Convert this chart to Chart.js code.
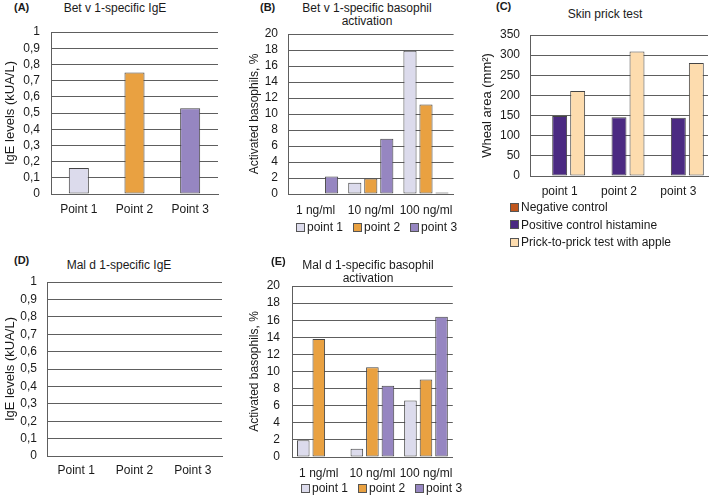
<!DOCTYPE html>
<html>
<head>
<meta charset="utf-8">
<script src="https://cdn.jsdelivr.net/npm/chart.js@4.4.1/dist/chart.umd.min.js"></script>
<style>
  body { margin: 0; background: #fff; font-family: "Liberation Sans", Arial, sans-serif; color: #1a1a1a; }
  #wrap { position: relative; width: 709px; height: 496px; overflow: hidden; }
  canvas { position: absolute; }
  .tag { position: absolute; font-weight: bold; font-size: 11px; line-height: 13px; }
  .ttl { position: absolute; font-size: 12px; line-height: 12.5px; text-align: center; transform: translateX(-50%); white-space: nowrap; }
  .leg { position: absolute; font-size: 12px; line-height: 14px; display: flex; gap: 10px; }
  .leg.col { flex-direction: column; gap: 3.5px; }
  .item { display: flex; align-items: center; white-space: nowrap; }
  .box { width: 7px; height: 7px; border: 1px solid #555; margin-right: 2px; display: inline-block; }
</style>
</head>
<body>
<div id="wrap">
  <div class="tag" style="left:14px;top:1px">(A)</div>
  <div class="ttl" style="left:115px;top:2px">Bet v 1-specific IgE</div>
  <canvas id="chartA" width="228" height="240" style="left:0;top:0"></canvas>

  <div class="tag" style="left:260px;top:1px">(B)</div>
  <div class="ttl" style="left:367px;top:2px">Bet v 1-specific basophil<br>activation</div>
  <canvas id="chartB" width="222" height="240" style="left:240px;top:0"></canvas>
  <div class="leg" id="legB" style="left:296px;top:220px"></div>

  <div class="tag" style="left:496px;top:0px">(C)</div>
  <div class="ttl" style="left:605px;top:8px">Skin prick test</div>
  <canvas id="chartC" width="239" height="200" style="left:470px;top:0"></canvas>
  <div class="leg col" id="legC" style="left:510px;top:200px"></div>

  <div class="tag" style="left:14px;top:254px">(D)</div>
  <div class="ttl" style="left:119px;top:259px">Mal d 1-specific IgE</div>
  <canvas id="chartD" width="228" height="256" style="left:0;top:240px"></canvas>

  <div class="tag" style="left:271px;top:255px">(E)</div>
  <div class="ttl" style="left:368px;top:259px">Mal d 1-specific basophil<br>activation</div>
  <canvas id="chartE" width="222" height="256" style="left:240px;top:240px"></canvas>
  <div class="leg" id="legE" style="left:301px;top:481px"></div>
</div>

<script>
// categories
const pointLabels = ['Point 1', 'Point 2', 'Point 3'];
const pointSeries = ['point 1', 'point 2', 'point 3'];
const doseLabels = ['1 ng/ml', '10 ng/ml', '100 ng/ml'];
const skinSeries = ['Negative control', 'Positive control histamine', 'Prick-to-prick test with apple'];

// values
const betIgE = [0.16, 0.75, 0.53];
const malIgE = [0, 0, 0];
const betBasoP1 = [0, 1.4, 17.9];
const betBasoP2 = [0, 1.95, 11.2];
const betBasoP3 = [2.2, 6.9, 0.2];
const malBasoP1 = [1.95, 0.97, 6.6];
const malBasoP2 = [13.8, 10.5, 9.07];
const malBasoP3 = [0, 8.33, 16.4];
const skinNegative = [0, 0, 0];
const skinPositive = [149, 146, 144.5];
const skinApple = [211, 309, 280.5];

// tick labels
const igeTicks = ['0', '0,1', '0,2', '0,3', '0,4', '0,5', '0,6', '0,7', '0,8', '0,9', '1'];
const basoTicks = ['0', '2', '4', '6', '8', '10', '12', '14', '16', '18', '20'];
const whealTicks = ['0', '50', '100', '150', '200', '250', '300', '350'];

const COLORS = {
  p1: '#dcdbec',
  p2: '#e9a141',
  p3: '#9686c1',
  neg: '#c0561d',
  pos: '#4b2a82',
  apple: '#fddcae'
};
const lineColor = '#5e5e5e';
const edgeColor = '#444444';
const textColor = '#1a1a1a';

function makeChart(id, labels, datasets, y, box) {
  const ctx = document.getElementById(id).getContext('2d');
  const w = ctx.canvas.width, h = ctx.canvas.height;
  return new Chart(ctx, {
    type: 'bar',
    data: { labels: labels, datasets: datasets },
    options: {
      responsive: false,
      animation: false,
      events: [],
      layout: {
        padding: { left: box.padLeft, right: w - box.right, top: box.top, bottom: h - box.bottom - 30 }
      },
      plugins: { legend: { display: false }, tooltip: { enabled: false } },
      datasets: {
        bar: {
          categoryPercentage: box.catP,
          barPercentage: box.barP,
          borderWidth: 1,
          borderColor: edgeColor,
          borderSkipped: false
        }
      },
      scales: {
        x: {
          grid: { display: false, drawTicks: false },
          border: { color: lineColor },
          ticks: { color: textColor, font: { family: 'Liberation Sans', size: 12 }, padding: box.xPad, maxRotation: 0, autoSkip: false },
          afterFit: s => { s.height = 30; }
        },
        y: {
          min: 0,
          max: y.max,
          grid: { color: lineColor, drawTicks: false },
          border: { color: lineColor },
          ticks: {
            stepSize: y.step,
            autoSkip: false,
            padding: box.yPad,
            color: textColor,
            font: { family: 'Liberation Sans', size: 12 },
            callback: (v, i) => y.ticks[i]
          },
          title: {
            display: true,
            text: y.title,
            color: textColor,
            font: { family: 'Liberation Sans', size: y.titleSize },
            padding: 0
          },
          afterFit: s => { s.width = box.left - box.padLeft; }
        }
      }
    }
  });
}

function makeLegend(id, names, colors) {
  const el = document.getElementById(id);
  names.forEach((n, i) => {
    const item = document.createElement('span');
    item.className = 'item';
    item.innerHTML = '<span class="box" style="background:' + colors[i] + '"></span>' + n;
    el.appendChild(item);
  });
}

// (A)
makeChart('chartA', pointLabels, [
  { data: betIgE, backgroundColor: [COLORS.p1, COLORS.p2, COLORS.p3] }
], { max: 1, step: 0.1, ticks: igeTicks, title: 'IgE levels (kUA/L)', titleSize: 13 },
{ padLeft: 3, left: 51, right: 218, top: 32, bottom: 194, xPad: 8, yPad: 11, catP: 1, barP: 0.36 });

// (B)
makeChart('chartB', doseLabels, [
  { label: pointSeries[0], data: betBasoP1, backgroundColor: COLORS.p1 },
  { label: pointSeries[1], data: betBasoP2, backgroundColor: COLORS.p2 },
  { label: pointSeries[2], data: betBasoP3, backgroundColor: COLORS.p3 }
], { max: 20, step: 2, ticks: basoTicks, title: 'Activated basophils, %', titleSize: 12 },
{ padLeft: 7, left: 48, right: 218, top: 34, bottom: 194, xPad: 9, yPad: 10, catP: 0.87, barP: 0.82 });
makeLegend('legB', pointSeries, [COLORS.p1, COLORS.p2, COLORS.p3]);

// (C)
makeChart('chartC', pointSeries, [
  { label: skinSeries[0], data: skinNegative, backgroundColor: COLORS.neg },
  { label: skinSeries[1], data: skinPositive, backgroundColor: COLORS.pos },
  { label: skinSeries[2], data: skinApple, backgroundColor: COLORS.apple }
], { max: 350, step: 50, ticks: whealTicks, title: 'Wheal area (mm²)', titleSize: 13 },
{ padLeft: 10, left: 60, right: 238, top: 35, bottom: 176, xPad: 8, yPad: 10, catP: 0.91, barP: 0.83 });
makeLegend('legC', skinSeries, [COLORS.neg, COLORS.pos, COLORS.apple]);

// (D)
makeChart('chartD', pointLabels, [
  { data: malIgE, backgroundColor: [COLORS.p1, COLORS.p2, COLORS.p3] }
], { max: 1, step: 0.1, ticks: igeTicks, title: 'IgE levels (kUA/L)', titleSize: 13 },
{ padLeft: 3, left: 47, right: 222, top: 42, bottom: 216, xPad: 7, yPad: 10, catP: 1, barP: 0.36 });

// (E)
makeChart('chartE', doseLabels, [
  { label: pointSeries[0], data: malBasoP1, backgroundColor: COLORS.p1 },
  { label: pointSeries[1], data: malBasoP2, backgroundColor: COLORS.p2 },
  { label: pointSeries[2], data: malBasoP3, backgroundColor: COLORS.p3 }
], { max: 20, step: 2, ticks: basoTicks, title: 'Activated basophils, %', titleSize: 12 },
{ padLeft: 7, left: 52, right: 218, top: 46, bottom: 217, xPad: 9, yPad: 12, catP: 0.87, barP: 0.81 });
makeLegend('legE', pointSeries, [COLORS.p1, COLORS.p2, COLORS.p3]);
</script>
</body>
</html>
